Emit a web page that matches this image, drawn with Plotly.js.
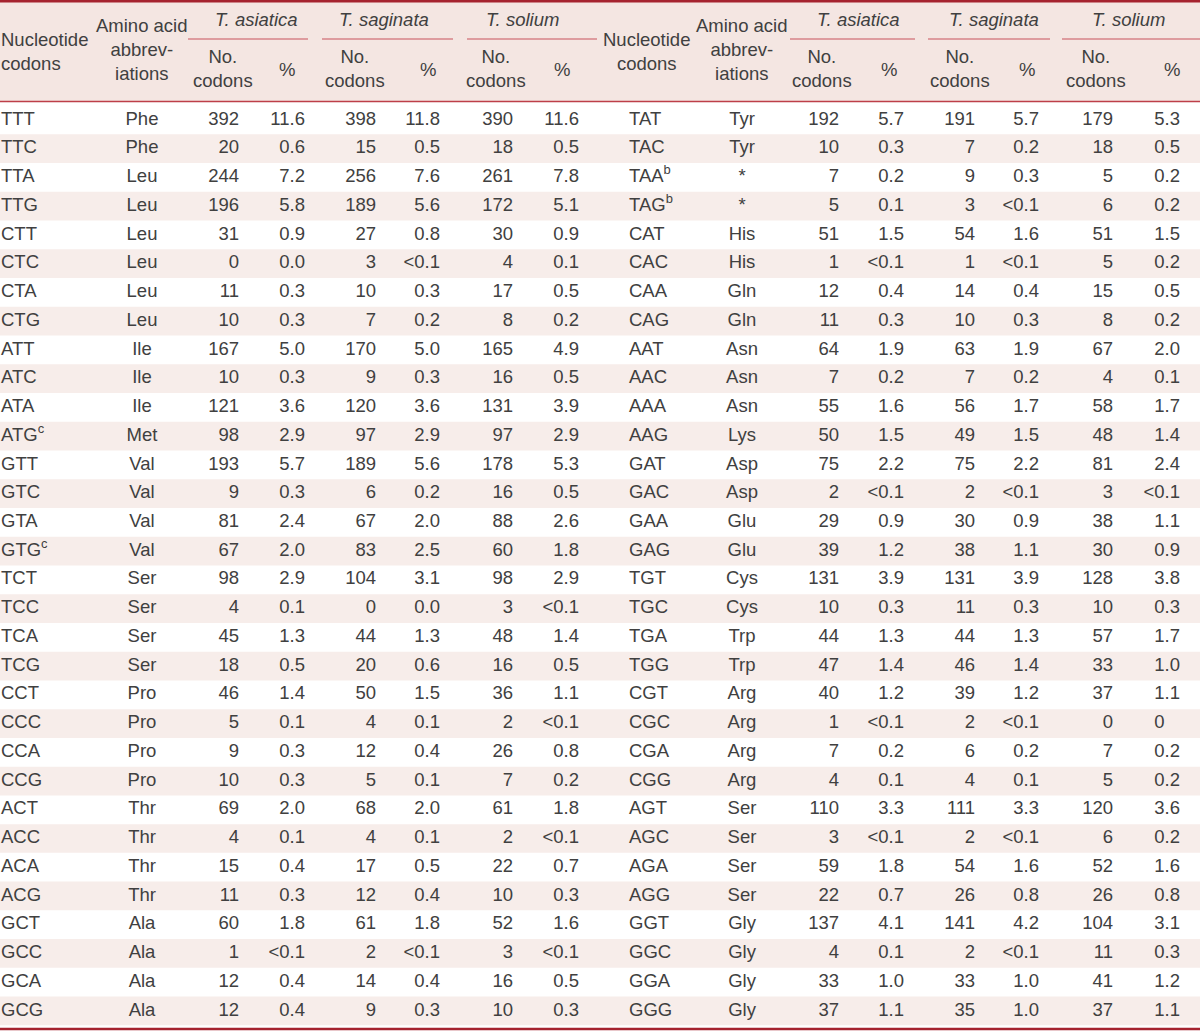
<!DOCTYPE html>
<html>
<head>
<meta charset="utf-8">
<script src="https://cdn.plot.ly/plotly-3.0.1.min.js"></script>
<style>html,body{margin:0;padding:0;background:#fff;}#chart{width:1200px;height:1031px;}</style>
</head>
<body>
<div id="chart"></div>
<script>
// ---------- DATA ----------
var codonsL = ['TTT','TTC','TTA','TTG','CTT','CTC','CTA','CTG','ATT','ATC','ATA','ATG<sup>c</sup>','GTT','GTC','GTA','GTG<sup>c</sup>','TCT','TCC','TCA','TCG','CCT','CCC','CCA','CCG','ACT','ACC','ACA','ACG','GCT','GCC','GCA','GCG'];
var aminoL = ['Phe','Phe','Leu','Leu','Leu','Leu','Leu','Leu','Ile','Ile','Ile','Met','Val','Val','Val','Val','Ser','Ser','Ser','Ser','Pro','Pro','Pro','Pro','Thr','Thr','Thr','Thr','Ala','Ala','Ala','Ala'];
var asiNoL  = [392,20,244,196,31,0,11,10,167,10,121,98,193,9,81,67,98,4,45,18,46,5,9,10,69,4,15,11,60,1,12,12];
var asiPctL = ['11.6','0.6','7.2','5.8','0.9','0.0','0.3','0.3','5.0','0.3','3.6','2.9','5.7','0.3','2.4','2.0','2.9','0.1','1.3','0.5','1.4','0.1','0.3','0.3','2.0','0.1','0.4','0.3','1.8','<0.1','0.4','0.4'];
var sagNoL  = [398,15,256,189,27,3,10,7,170,9,120,97,189,6,67,83,104,0,44,20,50,4,12,5,68,4,17,12,61,2,14,9];
var sagPctL = ['11.8','0.5','7.6','5.6','0.8','<0.1','0.3','0.2','5.0','0.3','3.6','2.9','5.6','0.2','2.0','2.5','3.1','0.0','1.3','0.6','1.5','0.1','0.4','0.1','2.0','0.1','0.5','0.4','1.8','<0.1','0.4','0.3'];
var solNoL  = [390,18,261,172,30,4,17,8,165,16,131,97,178,16,88,60,98,3,48,16,36,2,26,7,61,2,22,10,52,3,16,10];
var solPctL = ['11.6','0.5','7.8','5.1','0.9','0.1','0.5','0.2','4.9','0.5','3.9','2.9','5.3','0.5','2.6','1.8','2.9','<0.1','1.4','0.5','1.1','<0.1','0.8','0.2','1.8','<0.1','0.7','0.3','1.6','<0.1','0.5','0.3'];

var codonsR = ['TAT','TAC','TAA<sup>b</sup>','TAG<sup>b</sup>','CAT','CAC','CAA','CAG','AAT','AAC','AAA','AAG','GAT','GAC','GAA','GAG','TGT','TGC','TGA','TGG','CGT','CGC','CGA','CGG','AGT','AGC','AGA','AGG','GGT','GGC','GGA','GGG'];
var aminoR = ['Tyr','Tyr','*','*','His','His','Gln','Gln','Asn','Asn','Asn','Lys','Asp','Asp','Glu','Glu','Cys','Cys','Trp','Trp','Arg','Arg','Arg','Arg','Ser','Ser','Ser','Ser','Gly','Gly','Gly','Gly'];
var asiNoR  = [192,10,7,5,51,1,12,11,64,7,55,50,75,2,29,39,131,10,44,47,40,1,7,4,110,3,59,22,137,4,33,37];
var asiPctR = ['5.7','0.3','0.2','0.1','1.5','<0.1','0.4','0.3','1.9','0.2','1.6','1.5','2.2','<0.1','0.9','1.2','3.9','0.3','1.3','1.4','1.2','<0.1','0.2','0.1','3.3','<0.1','1.8','0.7','4.1','0.1','1.0','1.1'];
var sagNoR  = [191,7,9,3,54,1,14,10,63,7,56,49,75,2,30,38,131,11,44,46,39,2,6,4,111,2,54,26,141,2,33,35];
var sagPctR = ['5.7','0.2','0.3','<0.1','1.6','<0.1','0.4','0.3','1.9','0.2','1.7','1.5','2.2','<0.1','0.9','1.1','3.9','0.3','1.3','1.4','1.2','<0.1','0.2','0.1','3.3','<0.1','1.6','0.8','4.2','<0.1','1.0','1.0'];
var solNoR  = [179,18,5,6,51,5,15,8,67,4,58,48,81,3,38,30,128,10,57,33,37,0,7,5,120,6,52,26,104,11,41,37];
var solPctR = ['5.3','0.5','0.2','0.2','1.5','0.2','0.5','0.2','2.0','0.1','1.7','1.4','2.4','<0.1','1.1','0.9','3.8','0.3','1.7','1.0','1.1','0','0.2','0.2','3.6','0.2','1.6','0.8','3.1','0.3','1.2','1.1'];

var species = ['T. asiatica','T. saginata','T. solium'];
var colHeadNo = 'No.<br>codons';
var colHeadPct = '%';
var headNuc = 'Nucleotide<br>codons';
var headAmino = 'Amino acid<br>abbrev-<br>iations';

// ---------- STYLE ----------
var FONT = 'Liberation Sans, Arial, Helvetica, sans-serif';
var TXT = '#404040';
var FS = 18.5;
var ROW0 = 120, ROWH = 28.74;           // pixel geometry of the rows
function py(p){ return (p - ROW0) / ROWH; }  // pixel -> y data units

var rowIdx = codonsL.map(function(_, i){ return i; });

function fmtPct(arr){ return arr.map(function(s){ return s === '0' ? '0\u00a0\u00a0\u00a0' : s; }); }
function str(arr){ return arr.map(function(v){ return String(v); }); }

// column anchors: [text array, x anchor, textposition]
var cols = [
  [codonsL, 1, 'middle right'],
  [aminoL, 142, 'middle center'],
  [str(asiNoL), 239, 'middle left'],
  [fmtPct(asiPctL), 305, 'middle left'],
  [str(sagNoL), 376, 'middle left'],
  [fmtPct(sagPctL), 440, 'middle left'],
  [str(solNoL), 513, 'middle left'],
  [fmtPct(solPctL), 579, 'middle left'],
  [codonsR, 629, 'middle right'],
  [aminoR, 742, 'middle center'],
  [str(asiNoR), 839, 'middle left'],
  [fmtPct(asiPctR), 904, 'middle left'],
  [str(sagNoR), 975, 'middle left'],
  [fmtPct(sagPctR), 1039, 'middle left'],
  [str(solNoR), 1113, 'middle left'],
  [fmtPct(solPctR), 1180, 'middle left']
];

var traces = cols.map(function(c){
  return {
    type: 'scatter', mode: 'text',
    x: rowIdx.map(function(){ return c[1]; }),
    y: rowIdx,
    text: c[0],
    textposition: c[2],
    textfont: {family: FONT, size: FS, color: TXT},
    hoverinfo: 'skip', showlegend: false, cliponaxis: false
  };
});

// ---------- SHAPES ----------
var shapes = [];
shapes.push({type:'rect', xref:'x', yref:'y', x0:0, x1:1200, y0:py(0), y1:py(101), fillcolor:'#f4e6e2', line:{width:0}, layer:'below'});
rowIdx.forEach(function(i){
  if (i % 2 === 1) {
    shapes.push({type:'rect', xref:'x', yref:'y', x0:0, x1:1200, y0:i-0.5, y1:i+0.5, fillcolor:'#f7edea', line:{width:0}, layer:'below'});
  }
});
shapes.push({type:'line', xref:'x', yref:'y', x0:0, x1:1200, y0:py(1.2), y1:py(1.2), line:{color:'#a5232f', width:2.5}});
shapes.push({type:'line', xref:'x', yref:'y', x0:0, x1:1200, y0:py(101.5), y1:py(101.5), line:{color:'#bd3f48', width:1.3}});
shapes.push({type:'line', xref:'x', yref:'y', x0:0, x1:1200, y0:py(1029), y1:py(1029), line:{color:'#a5232f', width:2.5}});
var underlines = [[188,308],[322,453],[467,597],[790,915],[928,1050],[1062,1200]];
underlines.forEach(function(u){
  shapes.push({type:'line', xref:'x', yref:'y', x0:u[0], x1:u[1], y0:py(39), y1:py(39), line:{color:'#c8525c', width:1.2}});
});

// ---------- HEADER ANNOTATIONS ----------
function ann(text, x, yp, xanchor, align){
  return {text:text, x:x, y:py(yp), xref:'x', yref:'y', xanchor:xanchor, yanchor:'middle', align:align,
    showarrow:false, font:{family:FONT, size:FS, color:TXT}, borderpad:0};
}
var annotations = [];
annotations.push(ann(headNuc, 0, 51.5, 'left', 'left'));
annotations.push(ann(headNuc, 646, 51.5, 'center', 'center'));
annotations.push(ann(headAmino, 142, 49.5, 'center', 'center'));
annotations.push(ann(headAmino, 742, 49.5, 'center', 'center'));
var spX = [256, 384, 522, 858, 994, 1128];
spX.forEach(function(x, k){
  annotations.push(ann('<i>' + species[k % 3] + '</i>', x, 19, 'center', 'center'));
});
var noX = [223, 355, 496, 822, 960, 1096];
var pctX = [287, 428, 562, 889, 1027, 1172];
noX.forEach(function(x){ annotations.push(ann(colHeadNo, x, 68.5, 'center', 'center')); });
pctX.forEach(function(x){ annotations.push(ann(colHeadPct, x, 69, 'center', 'center')); });

var layout = {
  width: 1200, height: 1031,
  margin: {l:0, r:0, t:0, b:0, pad:0},
  paper_bgcolor: '#ffffff', plot_bgcolor: '#ffffff',
  xaxis: {range:[0,1200], visible:false, fixedrange:true},
  yaxis: {range:[py(1031), py(0)], visible:false, fixedrange:true},
  shapes: shapes,
  annotations: annotations,
  showlegend: false
};

Plotly.newPlot('chart', traces, layout, {staticPlot:true, displayModeBar:false});
</script>
</body>
</html>
